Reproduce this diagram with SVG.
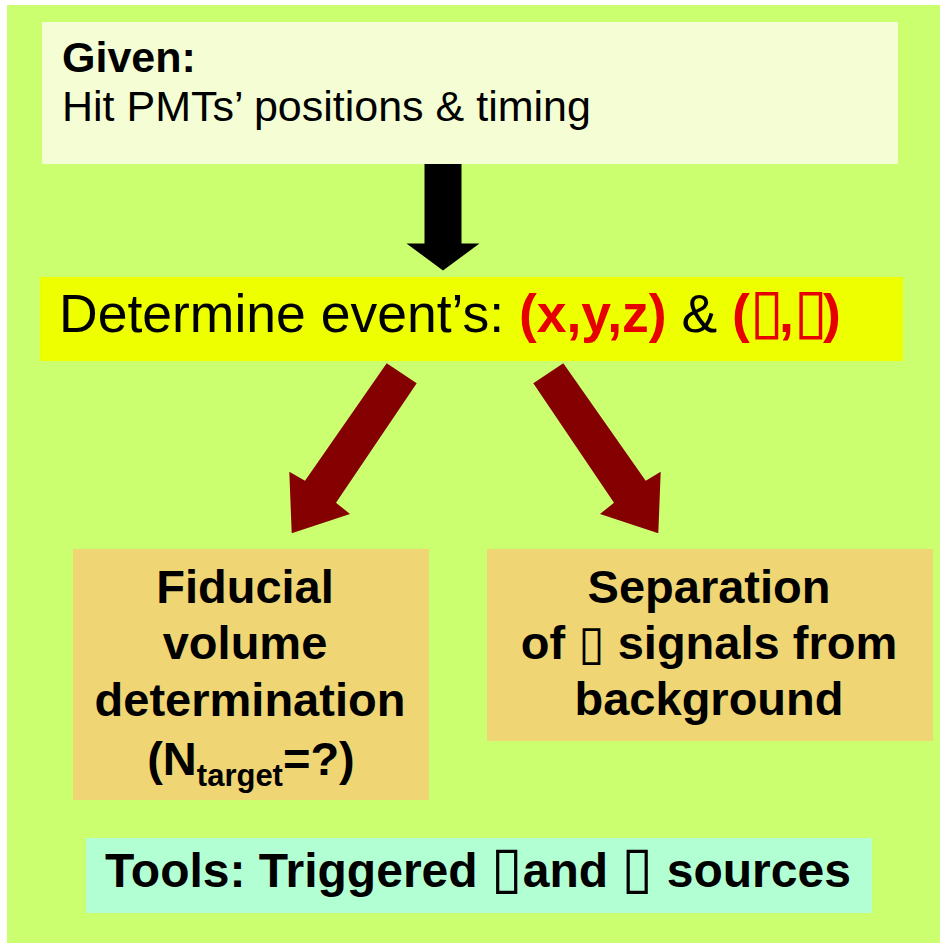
<svg xmlns="http://www.w3.org/2000/svg" width="940" height="943" viewBox="0 0 940 943">
  <style>
    text { font-family: "Liberation Sans", Arial, Helvetica, sans-serif; fill: #000; }
    .bold { font-weight: bold; }
    .red { fill: #e60000; }
    .box { font-family: "DejaVu Sans", sans-serif; font-weight: normal; }
    .mid { text-anchor: middle; }
    .block { font-size: 47px; font-weight: bold; }
  </style>

  <!-- page -->
  <rect x="0" y="0" width="940" height="943" fill="#ffffff"/>
  <rect x="7" y="5" width="933" height="938" fill="#ccff70"/>

  <!-- input -->
  <g id="node-given">
    <rect x="42" y="22" width="856" height="142" fill="#f4fdd3"/>
    <text x="62" y="72" font-size="43" class="bold">Given:</text>
    <text x="62" y="121" font-size="43">Hit PMTs’ positions &amp; timing</text>
  </g>

  <!-- reconstruction step -->
  <g id="node-determine">
    <rect x="40" y="277" width="863" height="84" fill="#eeff00"/>
    <text x="59" y="332" font-size="53.5">Determine event’s: <tspan class="bold red">(x,y,z)</tspan> &amp; <tspan class="bold red">(<tspan class="box" font-size="62" letter-spacing="-5">▯</tspan>,<tspan class="box" font-size="62" letter-spacing="-5">▯</tspan>)</tspan></text>
  </g>

  <!-- outcomes -->
  <g id="node-fiducial">
    <rect x="73" y="549" width="356" height="251" fill="#efd574"/>
    <text x="245" y="603" class="block mid">Fiducial</text>
    <text x="245" y="659" class="block mid">volume</text>
    <text x="250" y="716" class="block mid">determination</text>
    <text x="251" y="775" class="block mid">(N<tspan font-size="31" dy="11">target</tspan><tspan dy="-11">=?)</tspan></text>
  </g>

  <g id="node-separation">
    <rect x="487" y="549" width="446" height="192" fill="#efd574"/>
    <text x="709" y="603" class="block mid">Separation</text>
    <text x="709" y="659" class="block mid">of <tspan class="box" font-size="48">▯</tspan> signals from</text>
    <text x="709" y="715" class="block mid">background</text>
  </g>

  <g id="node-tools">
    <rect x="86" y="838" width="786" height="75" fill="#b3ffd4"/>
    <text x="478" y="887" font-size="48" class="bold mid">Tools: Triggered <tspan class="box" font-size="58">▯</tspan>and <tspan class="box" font-size="58">▯</tspan> sources</text>
  </g>

  <!-- block arrows -->
  <g id="connectors">
    <polygon fill="#000000" points="424.5,164 461.5,164 461.5,243.5 479.5,243.5 443,270.5 406.5,243.5 424.5,243.5"/>
    <polygon fill="#850000" points="386.7,363.3 416.7,383.3 336,502.7 350,514 291.7,533.3 289.3,471.7 305,480.7"/>
    <polygon fill="#850000" points="563.3,363.3 533.3,383.3 614,502.7 600,514 658.3,533.3 660.7,471.7 645.7,480.7"/>
  </g>
</svg>
